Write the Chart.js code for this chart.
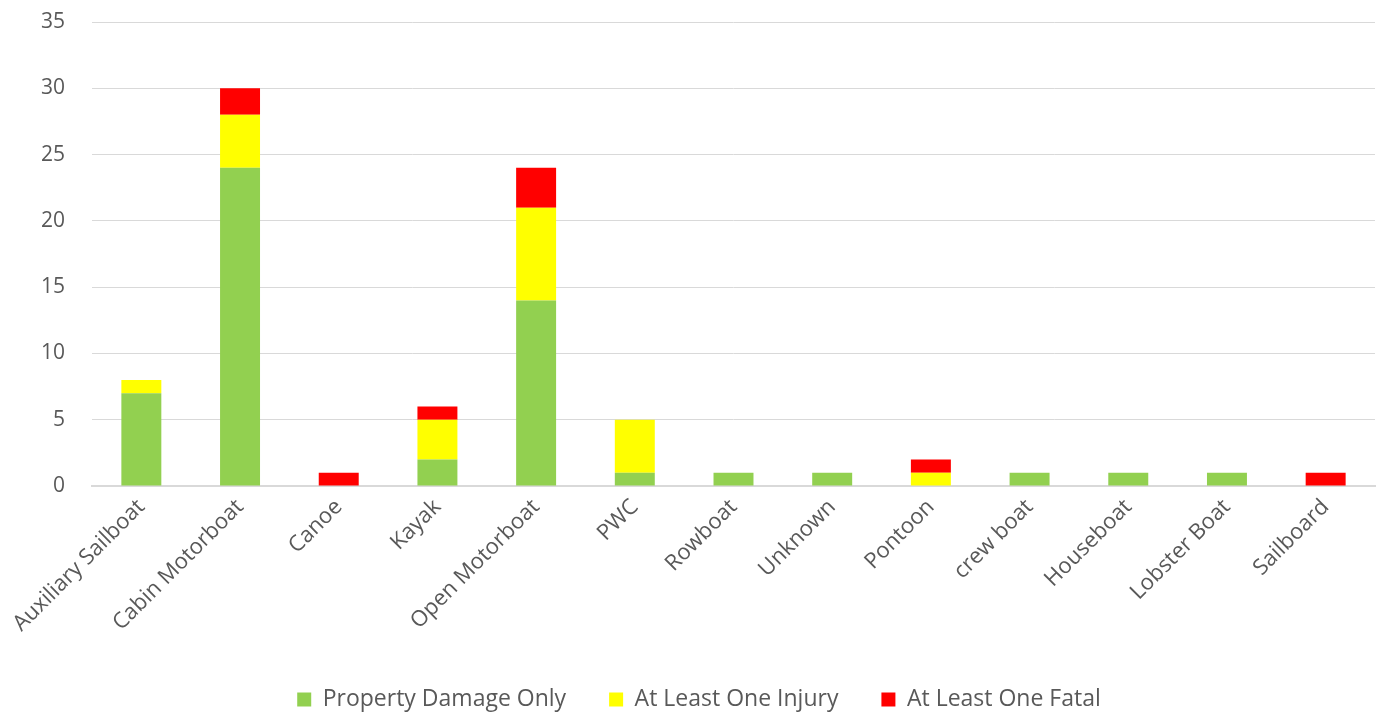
<!DOCTYPE html>
<html>
<meta charset="UTF-8">
<head>
    <title>Boat accidents</title>
    <script src="https://cdn.jsdelivr.net/npm/chart.js"></script>
    <style>
        html, body { margin: 0; padding: 0; background: #fff; }
        #wrap { width: 1380px; height: 713px; }
    </style>
</head>
<body>
<div id="wrap"><canvas id="accidentChart"></canvas></div>

<script>
    // Data
    var boatTypes = ['Auxiliary Sailboat', 'Cabin Motorboat', 'Canoe', 'Kayak', 'Open Motorboat', 'PWC',
        'Rowboat', 'Unknown', 'Pontoon', 'crew boat', 'Houseboat', 'Lobster Boat', 'Sailboard'];
    var propertyDamage = [7, 24, 0, 2, 14, 1, 1, 1, 0, 1, 1, 1, 0];
    var injury = [1, 4, 0, 3, 7, 4, 0, 0, 1, 0, 0, 0, 0];
    var fatal = [0, 2, 1, 1, 3, 0, 0, 0, 1, 0, 0, 0, 1];
    var yTicks = [0, 5, 10, 15, 20, 25, 30, 35];

    Chart.defaults.font.family = '"Open Sans", sans-serif';
    Chart.defaults.font.size = 21;
    Chart.defaults.color = '#595959';

    var ctx = document.getElementById('accidentChart').getContext('2d');

    var barOpts = { barPercentage: 0.405, categoryPercentage: 1 };

    var chart = new Chart(ctx, {
        type: 'bar',
        data: {
            labels: boatTypes,
            datasets: [
                Object.assign({ label: 'Property Damage Only', data: propertyDamage, backgroundColor: '#92d050' }, barOpts),
                Object.assign({ label: 'At Least One Injury', data: injury, backgroundColor: '#ffff00' }, barOpts),
                Object.assign({ label: 'At Least One Fatal', data: fatal, backgroundColor: '#ff0000' }, barOpts)
            ]
        },
        options: {
            responsive: true,
            maintainAspectRatio: false,
            animation: false,
            layout: { padding: { left: 23, right: 5, top: 22, bottom: -8 } },
            plugins: {
                tooltip: { enabled: false },
                legend: {
                    position: 'bottom',
                    labels: { boxWidth: 14, boxHeight: 14, padding: 43, font: { size: 23 } }
                }
            },
            scales: {
                x: {
                    stacked: true,
                    grid: { display: false, drawTicks: false },
                    border: { color: '#d9d9d9', width: 2 },
                    ticks: { minRotation: 45, maxRotation: 45, padding: 8, autoSkip: false, font: { size: 22 } }
                },
                y: {
                    stacked: true,
                    min: 0,
                    max: 35,
                    afterBuildTicks: function(axis) {
                        axis.ticks = yTicks.map(function(v) { return { value: v }; });
                    },
                    afterFit: function(axis) { axis.width = 69; },
                    // invisible tick marks keep the gap between labels and plot
                    grid: { color: '#d9d9d9', lineWidth: 1, drawTicks: true, tickLength: 27, tickColor: 'rgba(0,0,0,0)' },
                    border: { display: false },
                    ticks: { padding: 0 }
                }
            }
        }
    });
</script>
</body>
</html>
